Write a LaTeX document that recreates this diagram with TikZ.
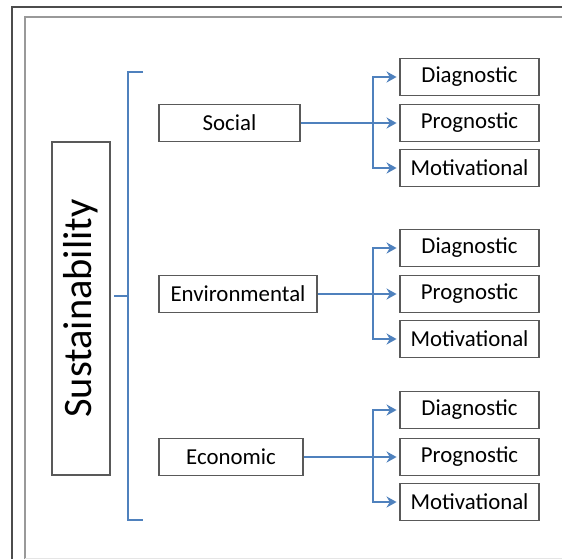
\documentclass[tikz,border=0pt]{standalone}
\usepackage{fontspec}
\setmainfont{Carlito}
\usetikzlibrary{arrows.meta}

\definecolor{linkblue}{RGB}{79,129,189}
\tikzstyle{box} = [draw=black!65,line width=1.1pt,inner sep=0pt,minimum height=0.74cm,font=\fontsize{13}{15}\selectfont]
\tikzstyle{frame} = [box,minimum width=2.78cm]
\tikzstyle{link} = [linkblue,line width=1.4pt,shorten >=0.05cm,-{Stealth[length=0.2cm,width=0.22cm]}]
\tikzstyle{brace} = [linkblue,line width=1.4pt]

\begin{document}
\begin{tikzpicture}[x=0.02cm,y=-0.02cm]
	\useasboundingbox (0,0) rectangle (562,559);
	\draw[black!70,line width=0.6pt] (12,559) -- (12,7) -- (562,7);
	\draw[black!40,line width=1.4pt] (25,559) -- (25,17) -- (562,17);
	\draw[black!10] (25,558) -- (562,558);
	\node[box,rotate=90,minimum width=6.66cm,minimum height=1.16cm,font=\fontsize{23}{27}\selectfont] (sus) at (81,308.5) {Sustainability};
	\node[box,minimum width=2.82cm] (soc) at (229.5,123) {Social};
	\node[box,minimum width=3.16cm] (env) at (238,294) {Environmental};
	\node[box,minimum width=2.88cm] (eco) at (231,457) {Economic};
	\node[frame] (d1) at (469.5,77) {Diagnostic};
	\node[frame] (p1) at (469.5,123) {Prognostic};
	\node[frame] (m1) at (469.5,168) {Motivational};
	\node[frame] (d2) at (469.5,248) {Diagnostic};
	\node[frame] (p2) at (469.5,294) {Prognostic};
	\node[frame] (m2) at (469.5,339) {Motivational};
	\node[frame] (d3) at (469.5,410) {Diagnostic};
	\node[frame] (p3) at (469.5,457) {Prognostic};
	\node[frame] (m3) at (469.5,502) {Motivational};
	\coordinate (b1) at (373,123);
	\coordinate (b2) at (373,294);
	\coordinate (b3) at (373,457);
	\coordinate (bk) at (128,296);
	\draw[brace] (143,72) -- (128,72) -- (128,520) -- (143,520);
	\draw[brace] (bk) -- ++(-14,0);
	\draw[link] (soc) -- (p1);
	\draw[link] (b1) |- (d1);
	\draw[link] (b1) |- (m1);
	\draw[link] (env) -- (p2);
	\draw[link] (b2) |- (d2);
	\draw[link] (b2) |- (m2);
	\draw[link] (eco) -- (p3);
	\draw[link] (b3) |- (d3);
	\draw[link] (b3) |- (m3);
\end{tikzpicture}
\end{document}
